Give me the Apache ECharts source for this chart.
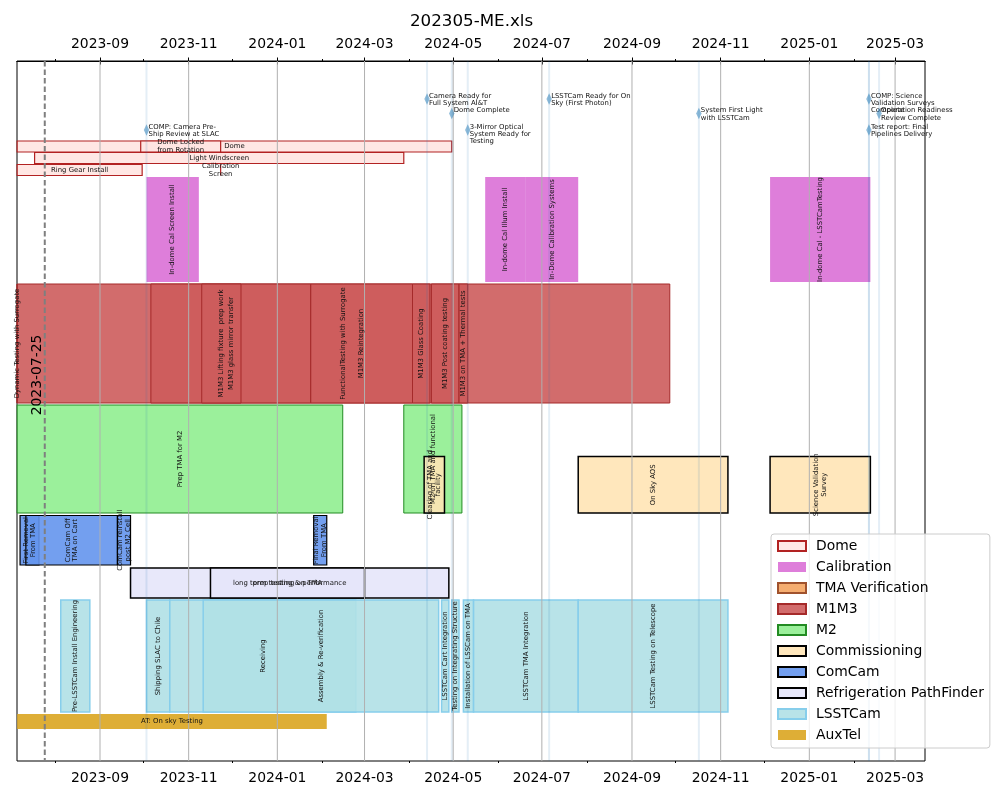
<!DOCTYPE html>
<html><head><meta charset="utf-8">
<script src="https://cdn.jsdelivr.net/npm/echarts@6/dist/echarts.min.js"></script>
<style>html,body{margin:0;padding:0;background:#fff}#chart{width:1000px;height:800px}</style>
</head><body><div id="chart"></div>
<script>
// ---------------- data ----------------
const chartTitle = '202305-ME.xls';
const xStart = '2023-07-05T21:30:00Z';
const xEnd = '2025-03-21T14:00:00Z';
const majorTickLabels = ['2023-09','2023-11','2024-01','2024-03','2024-05','2024-07','2024-09','2024-11','2025-01','2025-03'];
const minorTickLabels = ['2023-08','2023-10','2023-12','2024-02','2024-04','2024-06','2024-08','2024-10','2024-12','2025-02'];
const refDate = '2023-07-25';

const groups = ['Dome','Calibration','TMA Verification','M1M3','M2','Commissioning','ComCam','Refrigeration PathFinder','LSSTCam','AuxTel'];

// [label, start, end, sub-row]
const domeTasks = [
  ['Dome', '2023-07-06', '2024-04-30', 0],
  ['Dome Locked\nfrom Rotation', '2023-09-29', '2023-11-23', 0],
  ['Light Windscreen', '2023-07-18', '2024-03-28', 1],
  ['Ring Gear Install', '2023-07-06', '2023-09-30', 2],
  ['Calibration\nScreen', '2023-11-23', '2023-11-23', 2]
];
const calibrationTasks = [
  ['In-dome Cal Screen Install', '2023-10-03', '2023-11-08', 0],
  ['In-dome Cal Illum Install', '2024-05-23', '2024-06-20', 0],
  ['In-Dome Calibration Systems', '2024-06-20', '2024-07-26', 0],
  ['In-dome Cal - LSSTCamTesting', '2024-12-05', '2025-02-12', 0]
];
const tmaVerificationTasks = [];
const m1m3Tasks = [
  ['FunctionalTesting with Surrogate', '2023-07-06', '2024-09-27', 0],
  ['Dynamic Testing with Surrogate', '2023-07-06', '2023-07-06', 0],
  ['M1M3 glass mirror transfer', '2023-10-06', '2024-01-24', 0],
  ['M1M3 Lifting fixture  prep work', '2023-11-10', '2023-12-07', 0],
  ['M1M3 Reintegration', '2024-01-24', '2024-04-03', 0],
  ['M1M3 Glass Coating', '2024-04-03', '2024-04-15', 0],
  ['M1M3 Post coating testing', '2024-04-16', '2024-05-05', 0],
  ['M1M3 on TMA + Thermal tests', '2024-05-05', '2024-05-11', 0]
];
const m2Tasks = [
  ['Prep TMA for M2', '2023-07-06', '2024-02-15', 0],
  ['M2 on TMA and functional', '2024-03-28', '2024-05-07', 0]
];
const commissioningTasks = [
  ['Clearing of TMA and\nfacility', '2024-04-11', '2024-04-25', 0],
  ['On Sky AOS', '2024-07-26', '2024-11-06', 0],
  ['Science Validation\nSurvey', '2024-12-05', '2025-02-12', 0]
];
const comcamTasks = [
  ['First Removal\nFrom TMA', '2023-07-08', '2023-07-21', 0],
  ['ComCam Off\nTMA on Cart', '2023-07-12', '2023-09-13', 0],
  ['ComCam reinstall\npost M2 Cell', '2023-09-13', '2023-09-22', 0],
  ['Final Removal\nFrom TMA', '2024-01-26', '2024-02-04', 0]
];
const refrigerationTasks = [
  ['long term testing & performance', '2023-09-22', '2024-04-28', 0],
  ['prep testing on TMA', '2023-11-16', '2024-03-01', 0]
];
const lsstcamTasks = [
  ['Pre-LSSTCam Install Engineering', '2023-08-05', '2023-08-25', 0],
  ['Shipping SLAC to Chile', '2023-10-03', '2023-10-19', 0],
  ['Receiving', '2023-10-19', '2024-02-24', 0],
  ['Assembly & Re-verification', '2023-11-11', '2024-04-21', 0],
  ['LSSTCam Cart Integration', '2024-04-23', '2024-04-28', 0],
  ['Testing on Integrating Structure', '2024-04-30', '2024-05-05', 0],
  ['Installation of LSSCam on TMA', '2024-05-08', '2024-05-15', 0],
  ['LSSTCam TMA Integration', '2024-05-15', '2024-07-26', 0],
  ['LSSTCam Testing on Telescope', '2024-07-26', '2024-11-06', 0]
];
const auxtelTasks = [
  ['AT: On sky Testing', '2023-07-06', '2024-02-04', 0]
];

// [label, date, level]
const milestones = [
  ['COMP: Camera Pre-\nShip Review at SLAC', '2023-10-03', 2],
  ['Camera Ready for\nFull System AI&T', '2024-04-13', 0],
  ['Dome Complete', '2024-04-30', 1],
  ['3-Mirror Optical\nSystem Ready for\nTesting', '2024-05-11', 2],
  ['LSSTCam Ready for On\nSky (First Photon)', '2024-07-06', 0],
  ['System First Light\nwith LSSTCam', '2024-10-17', 1],
  ['COMP: Science\nValidation Surveys\nComplete', '2025-02-11', 0],
  ['Operation Readiness\nReview Complete', '2025-02-18', 1],
  ['Test report: Final\nPipelines Delivery', '2025-02-11', 2]
];

// ---------------- layout & style ----------------
const tasksByGroup = {
  'Dome': domeTasks, 'Calibration': calibrationTasks, 'TMA Verification': tmaVerificationTasks,
  'M1M3': m1m3Tasks, 'M2': m2Tasks, 'Commissioning': commissioningTasks, 'ComCam': comcamTasks,
  'Refrigeration PathFinder': refrigerationTasks, 'LSSTCam': lsstcamTasks, 'AuxTel': auxtelTasks
};
// vertical bands (y units: 0 top .. 700 bottom)
const laneBands = {
  'Dome': [[80,91],[91.5,102.5],[103.5,114.5]],
  'Calibration': [[116,221]],
  'TMA Verification': [[0,0]],
  'M1M3': [[223,342]],
  'M2': [[344,452]],
  'Commissioning': [[395.5,452]],
  'ComCam': [[454.5,504]],
  'Refrigeration PathFinder': [[507,537]],
  'LSSTCam': [[539,651]],
  'AuxTel': [[653,668]]
};
const milestoneLevels = [38, 52.5, 69];
const groupStyle = {
  'Dome': {fill:'rgba(255,228,225,0.9)', stroke:'#b22222', lw:1.2, rot:false},
  'Calibration': {fill:'rgba(218,112,214,0.9)', stroke:null, lw:0, rot:true},
  'TMA Verification': {fill:'rgba(244,164,96,0.9)', stroke:'#a0522d', lw:1, rot:true},
  'M1M3': {fill:'rgba(205,92,92,0.9)', stroke:'#a52a2a', lw:1, rot:true},
  'M2': {fill:'rgba(144,238,144,0.9)', stroke:'#228b22', lw:1, rot:true},
  'Commissioning': {fill:'rgba(255,228,181,0.9)', stroke:'#000', lw:1.5, rot:true},
  'ComCam': {fill:'rgba(100,149,237,0.9)', stroke:'#000', lw:1.2, rot:true},
  'Refrigeration PathFinder': {fill:'rgba(230,230,250,0.9)', stroke:'#000', lw:1.5, rot:false},
  'LSSTCam': {fill:'rgba(176,224,230,0.9)', stroke:'#87ceeb', lw:1.5, rot:true},
  'AuxTel': {fill:'rgba(218,165,32,0.9)', stroke:null, lw:0, rot:false}
};
const FONT = '"DejaVu Sans"';

function ts(s){ const p = s.split('-').map(Number); return Date.UTC(p[0], p[1]-1, p[2] || 1); }
function fmt(v){ const d = new Date(v); return d.getUTCFullYear() + '-' + String(d.getUTCMonth()+1).padStart(2,'0'); }

const majorVals = majorTickLabels.map(ts);
const minorVals = minorTickLabels.map(ts);

// ---------------- series ----------------
const series = [];
const allLabels = [];
groups.forEach(g => {
  const st = groupStyle[g];
  const bands = laneBands[g];
  const data = tasksByGroup[g].map(t => {
    const b = bands[t[3]];
    allLabels.push({text: t[0], rot: st.rot});
    return [ts(t[1]), ts(t[2]), b[0], b[1]];
  });
  series.push({
    type: 'custom', name: g, z: 2, silent: true, clip: false,
    itemStyle: {color: st.fill, borderColor: st.stroke || 'rgba(0,0,0,0)', borderWidth: st.lw},
    data: data,
    renderItem: function(params, api){
      const p0 = api.coord([api.value(0), api.value(2)]);
      const p1 = api.coord([api.value(1), api.value(3)]);
      return {type:'rect', shape:{x:p0[0], y:p0[1], width:p1[0]-p0[0], height:p1[1]-p0[1]},
        style:{fill: st.fill, stroke: st.stroke, lineWidth: st.lw}};
    }
  });
});

const labelData = [];
groups.forEach(g => {
  const bands = laneBands[g];
  tasksByGroup[g].forEach(t => {
    const b = bands[t[3]];
    labelData.push([(ts(t[1]) + ts(t[2])) / 2, (b[0] + b[1]) / 2]);
  });
});

// grid lines at major ticks (drawn above bars)
series.push({
  type:'custom', name:'_grid', z:3, silent:true, clip:false,
  data: majorVals.map(v => [v, 0]),
  renderItem: function(params, api){
    const a = api.coord([api.value(0), 0]), b = api.coord([api.value(0), 700]);
    return {type:'line', shape:{x1:a[0], y1:a[1], x2:b[0], y2:b[1]}, style:{stroke:'#b0b0b0', lineWidth:1}};
  }
});
// milestone vertical lines
series.push({
  type:'custom', name:'_mlines', z:3, silent:true, clip:false,
  data: milestones.map(m => [ts(m[1]), 0]),
  renderItem: function(params, api){
    const a = api.coord([api.value(0), 0]), b = api.coord([api.value(0), 700]);
    return {type:'line', shape:{x1:a[0], y1:a[1], x2:b[0], y2:b[1]}, style:{stroke:'rgba(31,119,180,0.12)', lineWidth:2}};
  }
});
// reference dashed line
series.push({
  type:'custom', name:'_ref', z:4, silent:true, clip:false,
  data: [[ts(refDate), 314]],
  renderItem: function(params, api){
    const a = api.coord([api.value(0), 0]), b = api.coord([api.value(0), 700]);
    const c = api.coord([api.value(0), api.value(1)]);
    return {type:'group', children:[
      {type:'line', shape:{x1:a[0], y1:a[1], x2:b[0], y2:b[1]}, style:{stroke:'#7f7f7f', lineWidth:2, lineDash:[5.5,3]}},
      {type:'text', x:c[0]-7, y:c[1], rotation:Math.PI/2,
        style:{text: refDate, fill:'#000', font:'13.9px ' + FONT, align:'center', verticalAlign:'middle'}}
    ]};
  }
});
// bar labels
series.push({
  type:'custom', name:'_labels', z:5, silent:true, clip:false,
  data: labelData,
  renderItem: function(params, api){
    const c = api.coord([api.value(0), api.value(1)]);
    const L = allLabels[params.dataIndex];
    return {type:'text', x:c[0], y:c[1], rotation: L.rot ? Math.PI/2 : 0,
      style:{text: L.text, fill:'#111', font:'6.9px ' + FONT, align:'center', verticalAlign:'middle', lineHeight:7.6}};
  }
});
// milestones
series.push({
  type:'custom', name:'_milestones', z:6, silent:true, clip:false,
  data: milestones.map(m => [ts(m[1]), milestoneLevels[m[2]]]),
  renderItem: function(params, api){
    const c = api.coord([api.value(0), api.value(1)]);
    const x = c[0], y = c[1];
    return {type:'group', children:[
      {type:'polygon', shape:{points:[[x, y-5.8],[x+2.7, y],[x, y+5.8],[x-2.7, y]]}, style:{fill:'rgba(31,119,180,0.5)'}},
      {type:'text', x:x+2, y:y-6.8, style:{text: milestones[params.dataIndex][0], fill:'#111', font:'6.9px ' + FONT,
        align:'left', verticalAlign:'top', lineHeight:7.4}}
    ]};
  }
});

const baseX = {type:'value', min: Date.parse(xStart), max: Date.parse(xEnd), gridIndex:0, splitLine:{show:false}};
const option = {
  animation: false,
  backgroundColor: '#fff',
  textStyle: {fontFamily: 'DejaVu Sans'},
  title: {text: chartTitle, left: 410, top: 13, padding: 0,
    textStyle: {fontSize: 16.7, fontWeight: 'normal', color: '#000', fontFamily: 'DejaVu Sans'}},
  grid: {left: 17, right: 75, top: 61, bottom: 39, show: true, borderColor: '#000', borderWidth: 1, containLabel: false},
  legend: {
    data: groups, orient: 'vertical', left: 771, top: 534, padding: [5, 6, 6, 6],
    itemWidth: 28, itemHeight: 10, itemGap: 7, icon: 'rect', selectedMode: false,
    backgroundColor: 'rgba(255,255,255,0.8)', borderColor: '#cccccc', borderWidth: 1, borderRadius: 3,
    textStyle: {fontSize: 13.9, color: '#000', fontFamily: 'DejaVu Sans', padding: [0,0,0,5], lineHeight: 14}
  },
  xAxis: [
    Object.assign({}, baseX, {position:'bottom',
      axisLine:{show:true, lineStyle:{color:'#000', width:1}},
      axisTick:{show:true, length:3.5, lineStyle:{color:'#000'}, customValues: majorVals},
      axisLabel:{show:true, color:'#000', fontSize:13.9, margin:10, customValues: majorVals, formatter: fmt}}),
    Object.assign({}, baseX, {position:'top',
      axisLine:{show:true, lineStyle:{color:'#000', width:1}},
      axisTick:{show:true, length:3.5, lineStyle:{color:'#000'}, customValues: majorVals},
      axisLabel:{show:true, color:'#000', fontSize:13.9, margin:10, customValues: majorVals, formatter: fmt}}),
    Object.assign({}, baseX, {position:'bottom',
      axisLine:{show:false}, axisLabel:{show:false},
      axisTick:{show:true, length:2, lineStyle:{color:'#000'}, customValues: minorVals}}),
    Object.assign({}, baseX, {position:'top',
      axisLine:{show:false}, axisLabel:{show:false},
      axisTick:{show:true, length:2, lineStyle:{color:'#000'}, customValues: minorVals}})
  ],
  yAxis: {type:'value', min:0, max:700, inverse:true, show:false, splitLine:{show:false}},
  series: series
};
const chart = echarts.init(document.getElementById('chart'), null, {renderer:'canvas'});
chart.setOption(option);
</script>
</body></html>
